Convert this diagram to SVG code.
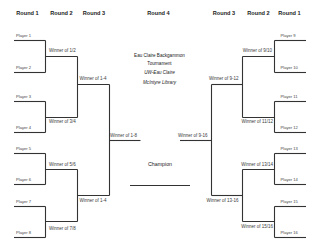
<svg xmlns="http://www.w3.org/2000/svg" width="320" height="247" viewBox="0 0 320 247">
<style>
text{font-family:"Liberation Sans",Arial,sans-serif;fill:#333}
.hd{font-size:5.6px;font-weight:bold;text-anchor:middle;fill:#222}
.pl{font-size:4.1px;fill:#444}
.wn{font-size:4.5px;fill:#3a3a3a}
.r{text-anchor:end}
.ti{font-size:4.6px;text-anchor:middle;fill:#222}
.ch{font-size:5.3px;text-anchor:middle;fill:#222}
line{stroke:#333;stroke-width:1.1}
</style>
<rect width="320" height="247" fill="#fff"/>
<g id="headers">
<text class="hd" x="27.5" y="15">Round 1</text>
<text class="hd" x="61.5" y="15">Round 2</text>
<text class="hd" x="94" y="15">Round 3</text>
<text class="hd" x="158.5" y="15">Round 4</text>
<text class="hd" x="224" y="15">Round 3</text>
<text class="hd" x="258.5" y="15">Round 2</text>
<text class="hd" x="289.5" y="15">Round 1</text>
</g>
<g id="title">
<text class="ti" x="159.5" y="56.6">Eau Claire Backgammon</text>
<text class="ti" x="159.5" y="65">Tournament</text>
<text class="ti" x="159.5" y="74.3" font-style="italic" fill="#444">UW-Eau Claire</text>
<text class="ti" x="159.5" y="83.5" font-style="italic" fill="#444">McIntyre Library</text>
</g>
<g id="connectors">
<line x1="45.5" y1="40.5" x2="45.5" y2="72.5"/>
<line x1="45.5" y1="101.5" x2="45.5" y2="132.5"/>
<line x1="45.5" y1="153.5" x2="45.5" y2="184.5"/>
<line x1="45.5" y1="206.5" x2="45.5" y2="237.5"/>
<line x1="77.5" y1="56.5" x2="77.5" y2="117.5"/>
<line x1="77.5" y1="169.5" x2="77.5" y2="221.5"/>
<line x1="109.5" y1="84.5" x2="109.5" y2="195.5"/>
<line x1="274.5" y1="40.5" x2="274.5" y2="72.5"/>
<line x1="274.5" y1="101.5" x2="274.5" y2="132.5"/>
<line x1="274.5" y1="153.5" x2="274.5" y2="184.5"/>
<line x1="274.5" y1="206.5" x2="274.5" y2="237.5"/>
<line x1="242.5" y1="56.5" x2="242.5" y2="117.5"/>
<line x1="242.5" y1="169.5" x2="242.5" y2="221.5"/>
<line x1="211.5" y1="84.5" x2="211.5" y2="195.5"/>
</g>
<g id="p1"><line x1="14" y1="40.5" x2="45.5" y2="40.5"/><text class="pl" x="16" y="37">Player 1</text></g>
<g id="p2"><line x1="14" y1="72.5" x2="45.5" y2="72.5"/><text class="pl" x="16" y="69.3">Player 2</text></g>
<g id="p3"><line x1="14" y1="101.5" x2="45.5" y2="101.5"/><text class="pl" x="16" y="97.5">Player 3</text></g>
<g id="p4"><line x1="14" y1="132.5" x2="45.5" y2="132.5"/><text class="pl" x="16" y="129.3">Player 4</text></g>
<g id="p5"><line x1="14" y1="153.5" x2="45.5" y2="153.5"/><text class="pl" x="16" y="149.5">Player 5</text></g>
<g id="p6"><line x1="14" y1="184.5" x2="45.5" y2="184.5"/><text class="pl" x="16" y="181.3">Player 6</text></g>
<g id="p7"><line x1="14" y1="206.5" x2="45.5" y2="206.5"/><text class="pl" x="16" y="202.5">Player 7</text></g>
<g id="p8"><line x1="14" y1="237.5" x2="45.5" y2="237.5"/><text class="pl" x="16" y="234.3">Player 8</text></g>
<g id="w12"><line x1="45.5" y1="56.5" x2="77.5" y2="56.5"/><text class="wn" x="49" y="52.3">Winner of 1/2</text></g>
<g id="w34"><line x1="45.5" y1="117.5" x2="77.5" y2="117.5"/><text class="wn" x="49" y="123.3">Winner of 3/4</text></g>
<g id="w56"><line x1="45.5" y1="169.5" x2="77.5" y2="169.5"/><text class="wn" x="49" y="166.3">Winner of 5/6</text></g>
<g id="w78"><line x1="45.5" y1="221.5" x2="77.5" y2="221.5"/><text class="wn" x="49" y="230.3">Winner of 7/8</text></g>
<g id="w14a"><line x1="77.5" y1="84.5" x2="109.5" y2="84.5"/><text class="wn" x="79.5" y="80.3">Winner of 1-4</text></g>
<g id="w14b"><line x1="77.5" y1="195.5" x2="109.5" y2="195.5"/><text class="wn" x="79.5" y="202.3">Winner of 1-4</text></g>
<g id="w18"><line x1="109.5" y1="140.5" x2="140.5" y2="140.5"/><text class="wn" x="110" y="137">Winner of 1-8</text></g>
<g id="p9"><line x1="274.5" y1="40.5" x2="306" y2="40.5"/><text class="pl" x="280.5" y="37">Player 9</text></g>
<g id="p10"><line x1="274.5" y1="72.5" x2="306" y2="72.5"/><text class="pl" x="280.5" y="69.3">Player 10</text></g>
<g id="p11"><line x1="274.5" y1="101.5" x2="306" y2="101.5"/><text class="pl" x="280.5" y="97.5">Player 11</text></g>
<g id="p12"><line x1="274.5" y1="132.5" x2="306" y2="132.5"/><text class="pl" x="280.5" y="129.3">Player 12</text></g>
<g id="p13"><line x1="274.5" y1="153.5" x2="306" y2="153.5"/><text class="pl" x="280.5" y="149.5">Player 13</text></g>
<g id="p14"><line x1="274.5" y1="184.5" x2="306" y2="184.5"/><text class="pl" x="280.5" y="181.3">Player 14</text></g>
<g id="p15"><line x1="274.5" y1="206.5" x2="306" y2="206.5"/><text class="pl" x="280.5" y="202.5">Player 15</text></g>
<g id="p16"><line x1="274.5" y1="237.5" x2="306" y2="237.5"/><text class="pl" x="280.5" y="234.3">Player 16</text></g>
<g id="w910"><line x1="242.5" y1="56.5" x2="274.5" y2="56.5"/><text class="wn r" x="272" y="52.3">Winner of 9/10</text></g>
<g id="w1112"><line x1="242.5" y1="117.5" x2="274.5" y2="117.5"/><text class="wn r" x="273" y="123.3">Winner of 11/12</text></g>
<g id="w1314"><line x1="242.5" y1="169.5" x2="274.5" y2="169.5"/><text class="wn r" x="273" y="166.3">Winner of 13/14</text></g>
<g id="w1516"><line x1="242.5" y1="221.5" x2="274.5" y2="221.5"/><text class="wn r" x="273" y="228.3">Winner of 15/16</text></g>
<g id="w912"><line x1="211.5" y1="84.5" x2="242.5" y2="84.5"/><text class="wn r" x="238.5" y="80.3">Winner of 9-12</text></g>
<g id="w1316"><line x1="211.5" y1="195.5" x2="242.5" y2="195.5"/><text class="wn r" x="238.5" y="202.3">Winner of 13-16</text></g>
<g id="w916"><line x1="180" y1="140.5" x2="211.5" y2="140.5"/><text class="wn r" x="207.5" y="137">Winner of 9-16</text></g>
<g id="champion"><line x1="130" y1="185.5" x2="190" y2="185.5"/><text class="ch" x="160" y="166">Champion</text></g>
</svg>
